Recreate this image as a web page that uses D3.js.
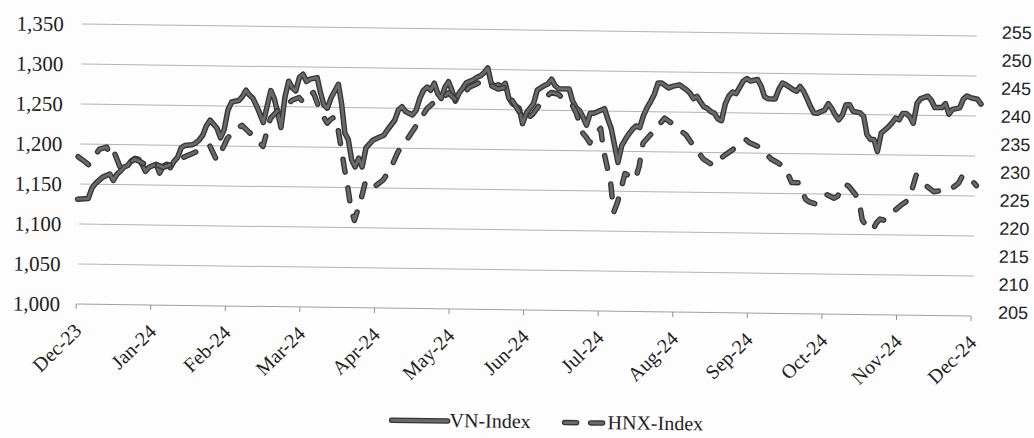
<!DOCTYPE html>
<html>
<head>
<meta charset="utf-8">
<script src="https://cdn.jsdelivr.net/npm/d3@7"></script>
<style>
  body { margin: 0; background: #fdfdfd; }
</style>
</head>
<body>
<div id="chart"></div>
<script>
// month labels, one every 21 trading sessions
const monthLabels = ["Dec-23", "Jan-24", "Feb-24", "Mar-24", "Apr-24", "May-24", "Jun-24",
  "Jul-24", "Aug-24", "Sep-24", "Oct-24", "Nov-24", "Dec-24"];
const monthSession = [0, 21, 42, 63, 84, 105, 126, 147, 168, 189, 210, 231, 252];

const leftTicks = [1000, 1050, 1100, 1150, 1200, 1250, 1300, 1350];
const rightTicks = [205, 210, 215, 220, 225, 230, 235, 240, 245, 250, 255];

// VN-Index (left axis), trading session number -> close
const vnSession = [0, 3, 4, 5, 7, 8, 9, 10, 11, 12, 13, 14, 15, 16, 17, 18, 19, 20, 21, 22, 23, 24, 25, 26, 27, 28, 29, 30,
  32, 33, 34, 35, 36, 37, 39, 40, 41, 42, 43, 45, 46, 47, 48, 49, 50, 51, 52, 54, 55, 56, 57, 58, 59, 60, 61, 62, 63,
  64, 65, 67, 68, 69, 70, 71, 73, 74, 75, 76, 77, 78, 79, 80, 81, 83, 85, 86, 87, 89, 90, 91, 92, 94, 95, 96, 97, 98,
  99, 100, 101, 102, 103, 104, 105, 106, 107, 108, 109, 111, 112, 113, 114, 115, 116, 117, 118, 119, 120, 121, 122,
  124, 125, 126, 128, 129, 131, 132, 133, 134, 135, 138, 139, 140, 141, 142, 143, 144, 145, 147, 148, 149, 150, 151,
  152, 153, 154, 155, 156, 157, 158, 159, 160, 161, 162, 163, 164, 166, 167, 169, 171, 172, 173, 174, 175, 176, 177,
  178, 179, 180, 181, 182, 183, 184, 185, 187, 188, 189, 191, 192, 193, 194, 196, 197, 198, 199, 201, 202, 203, 204,
  205, 206, 207, 208, 210, 211, 212, 213, 214, 215, 216, 217, 218, 220, 221, 222, 223, 224, 225, 226, 227, 228, 229,
  230, 231, 232, 233, 234, 235, 236, 237, 239, 240, 241, 243, 244, 245, 246, 248, 249, 250, 251, 253, 254];
const vnValue = [1131, 1132, 1145, 1151, 1159, 1161, 1163, 1155, 1163, 1167, 1172, 1174, 1180, 1183, 1182, 1176, 1167,
  1172, 1174, 1176, 1165, 1174, 1176, 1172, 1180, 1185, 1197, 1200,
  1201, 1203, 1207, 1213, 1225, 1232, 1222, 1210, 1220, 1245, 1255, 1257, 1262, 1270, 1264, 1260, 1251, 1241, 1230,
  1270, 1260, 1243, 1224, 1262, 1282, 1274, 1270, 1287, 1291,
  1282, 1285, 1287, 1268, 1253, 1249, 1262, 1279, 1254, 1218, 1210, 1185, 1176, 1187, 1176, 1200, 1210, 1214, 1216,
  1223, 1235, 1248, 1252, 1246, 1242, 1248, 1263, 1273, 1277,
  1273, 1282, 1269, 1263, 1277, 1284, 1273, 1260, 1270, 1276, 1283, 1287, 1290, 1292, 1296, 1302, 1283, 1279, 1281,
  1279, 1283, 1265, 1258,
  1252, 1233, 1246, 1258, 1275, 1281, 1283, 1289, 1281, 1277, 1277, 1262, 1254, 1250, 1242, 1232, 1247, 1247, 1251,
  1253, 1240, 1228, 1207,
  1186, 1207, 1215, 1222, 1228, 1232, 1230, 1245, 1255, 1263, 1272, 1286, 1286, 1280, 1282, 1284, 1278, 1274, 1267,
  1270, 1263, 1257, 1255,
  1251, 1249, 1242, 1240, 1261, 1271, 1276, 1274, 1290, 1293, 1290, 1292, 1284, 1271, 1268, 1268, 1280, 1288, 1286,
  1280, 1278, 1284, 1278,
  1269, 1259, 1251, 1251, 1255, 1263, 1257, 1249, 1243, 1249, 1262, 1262, 1254, 1252, 1248, 1225, 1219, 1219, 1204,
  1227, 1231, 1235, 1240,
  1246, 1244, 1252, 1252, 1248, 1240, 1265, 1271, 1274, 1269, 1260, 1260, 1265, 1252, 1258, 1260, 1271, 1275, 1273,
  1271, 1265];

// HNX-Index (right axis)
const hnxSession = [0, 2, 3, 4, 6, 8, 9, 10, 12, 14, 16, 18, 20, 22, 24, 26, 28, 32, 35, 37, 39, 41, 42, 44, 46, 48, 50,
  52, 54, 56, 58, 60, 62, 63, 64, 66, 68, 70, 71, 72, 73, 74, 75, 76, 77, 78, 79, 80, 81, 82, 84, 86, 88, 90, 93, 96,
  98, 100, 102, 104, 106, 108, 110, 112, 114, 116, 118, 120, 122, 124, 126, 128, 131, 133, 135, 137, 139, 140, 141,
  142, 143, 144, 145, 147, 148, 149, 150, 151, 152, 153, 154, 156, 157, 158, 159, 162, 163, 165, 167, 169, 171, 173,
  176, 178, 179, 180, 182, 184, 186, 188, 189, 192, 195, 197, 199, 201, 203, 205, 206, 208, 211, 213, 214, 216, 217,
  219, 220, 221, 222, 224, 225, 226, 227, 229, 230, 232, 234, 235, 236, 237, 239, 241, 243, 246, 248, 249, 250, 252,
  253];
const hnxValue = [231.3, 230.4, 229.9, 231.0, 232.7, 233.1, 231.6, 232.4, 229.3, 230.1, 231.0, 230.4, 229.6, 230.1,
  229.6, 230.1, 231.0, 232.1, 233.0, 233.6, 231.0, 233.6, 235.0, 236.4, 237.3, 236.1, 235.0,
  233.6, 238.6, 240.0, 240.7, 241.9, 242.4, 241.7, 242.9, 243.3, 240.0, 237.9, 238.6, 239.0, 237.1, 233.6, 229.9,
  226.6, 222.7, 220.6, 222.6, 224.9, 227.6, 227.9, 226.9, 227.9, 229.9, 232.9, 235.6, 238.6,
  240.7, 241.9, 242.4, 243.6, 242.4, 243.3, 244.7, 245.3, 245.9, 245.0, 244.4, 244.7, 242.4, 240.4, 239.0, 240.1,
  242.9, 243.9, 243.6, 242.4, 241.6, 240.4, 238.6,
  236.7, 236.0, 235.0, 236.4, 237.6, 233.4, 230.7, 228.0, 222.7, 224.4, 226.9, 229.6, 229.0, 228.6, 231.0, 235.1,
  237.3, 238.1, 239.6, 238.7, 237.6, 236.7, 234.9,
  232.4, 231.6, 231.3, 232.1, 233.1, 234.0, 235.0, 235.9, 235.4, 234.6, 232.6, 231.9, 231.1, 228.4, 228.4, 225.4,
  225.0, 224.6, 226.3, 225.7, 226.1, 228.3, 227.9,
  226.4, 225.3, 221.9, 221.0, 220.1, 221.4, 222.1, 221.9, 223.0, 223.6, 224.7, 225.6, 227.7, 230.0, 229.1, 228.1,
  227.1, 227.3, 227.7, 228.7, 230.0, 230.1, 229.0,
  228.3];

const w = 1034;
const h = 438;
const plotL = 78, plotR = 973, plotT = 30, plotB = 310;

const vnData = vnSession.map(function(s, i) { return { s: s, v: vnValue[i] }; });
const hnxData = hnxSession.map(function(s, i) { return { s: s, v: hnxValue[i] }; });

const x = d3.scaleLinear().domain([0, 252]).range([plotL, plotR]);
const yL = d3.scaleLinear().domain([1000, 1350]).range([plotB, plotT]);
const yR = d3.scaleLinear().domain([205, 255]).range([plotB, plotT]);

const svg = d3.select("#chart")
  .append("svg")
  .attr("width", w)
  .attr("height", h);

// the source is a slightly skewed scan
const g = svg.append("g")
  .attr("transform", "rotate(0.77, 525, 170)");

// gridlines
g.selectAll(".grid")
  .data(leftTicks.slice(1))
  .enter()
  .append("line")
  .attr("x1", plotL + 2)
  .attr("x2", plotR + 2)
  .attr("y1", function(d) { return yL(d); })
  .attr("y2", function(d) { return yL(d); })
  .attr("stroke", "#b4b4b4")
  .attr("stroke-width", 1);

// bottom axis with ticks
g.append("line")
  .attr("x1", plotL)
  .attr("x2", plotR)
  .attr("y1", plotB)
  .attr("y2", plotB)
  .attr("stroke", "#a0a0a0");

g.selectAll(".tick")
  .data(monthSession)
  .enter()
  .append("line")
  .attr("x1", function(d) { return x(d); })
  .attr("x2", function(d) { return x(d); })
  .attr("y1", plotB)
  .attr("y2", plotB + 5)
  .attr("stroke", "#909090");

g.selectAll(".month")
  .data(monthLabels)
  .enter()
  .append("text")
  .attr("transform", function(d, i) {
    return "translate(" + (x(monthSession[i]) + 7) + "," + (plotB + 28) + ") rotate(-45)";
  })
  .attr("text-anchor", "end")
  .attr("font-family", "Liberation Serif, serif")
  .attr("font-size", "20px")
  .attr("fill", "#222")
  .text(function(d) { return d; });

// left axis labels
g.selectAll(".yl")
  .data(leftTicks)
  .enter()
  .append("text")
  .attr("x", 62)
  .attr("y", function(d) { return yL(d); })
  .attr("dy", "0.35em")
  .attr("text-anchor", "end")
  .attr("font-family", "Liberation Serif, serif")
  .attr("font-size", "21px")
  .attr("fill", "#222")
  .text(d3.format(","));

// right axis labels
g.selectAll(".yr")
  .data(rightTicks)
  .enter()
  .append("text")
  .attr("x", 1000)
  .attr("y", function(d) { return yR(d) - 4; })
  .attr("dy", "0.35em")
  .attr("font-family", "Liberation Sans, sans-serif")
  .attr("font-size", "18px")
  .attr("fill", "#222")
  .text(function(d) { return d; });

const vnLine = d3.line()
  .x(function(d) { return x(d.s); })
  .y(function(d) { return yL(d.v); });
const hnxLine = d3.line()
  .x(function(d) { return x(d.s); })
  .y(function(d) { return yR(d.v); });

// each series drawn twice: dark edge, lighter core
function drawSeries(data, gen, dash) {
  g.append("path")
    .datum(data)
    .attr("d", gen)
    .attr("fill", "none")
    .attr("stroke", "#363636")
    .attr("stroke-width", 5.5)
    .attr("stroke-linejoin", "round")
    .attr("stroke-linecap", "round")
    .attr("stroke-dasharray", dash);
  g.append("path")
    .datum(data)
    .attr("d", gen)
    .attr("fill", "none")
    .attr("stroke", "#6a6a6a")
    .attr("stroke-width", 2.8)
    .attr("stroke-linejoin", "round")
    .attr("stroke-linecap", "round")
    .attr("stroke-dasharray", dash);
}
drawSeries(vnData, vnLine, null);
drawSeries(hnxData, hnxLine, "13,16");

// legend
const legend = g.append("g");
[["#363636", 5.5], ["#6a6a6a", 2.8]].forEach(function(st) {
  legend.append("line")
    .attr("x1", 395).attr("x2", 451)
    .attr("y1", 422).attr("y2", 422)
    .attr("stroke", st[0]).attr("stroke-width", st[1])
    .attr("stroke-linecap", "round");
  legend.append("line")
    .attr("x1", 568).attr("x2", 606)
    .attr("y1", 422).attr("y2", 422)
    .attr("stroke", st[0]).attr("stroke-width", st[1])
    .attr("stroke-linecap", "round")
    .attr("stroke-dasharray", "12,14");
});
legend.append("text")
  .attr("x", 453).attr("y", 428)
  .attr("font-family", "Liberation Serif, serif")
  .attr("font-size", "20px")
  .attr("fill", "#222")
  .text("VN-Index");
legend.append("text")
  .attr("x", 611).attr("y", 428)
  .attr("font-family", "Liberation Serif, serif")
  .attr("font-size", "20px")
  .attr("fill", "#222")
  .text("HNX-Index");
</script>
</body>
</html>
